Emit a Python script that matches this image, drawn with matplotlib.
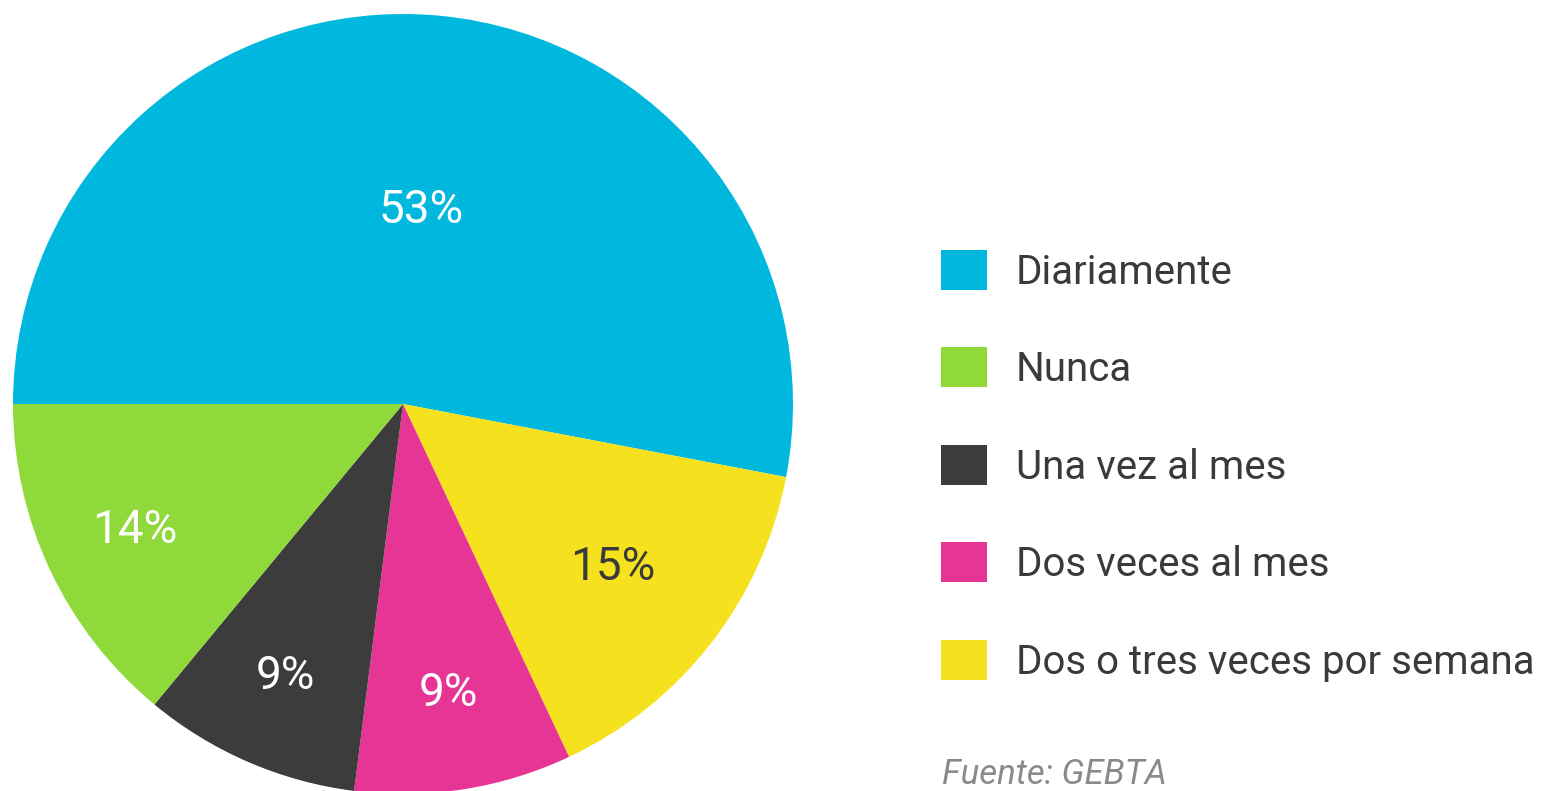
import matplotlib.pyplot as plt
from matplotlib.patches import Patch
import numpy as np

# Datos (orden del pastel, en sentido horario desde la izquierda)
categorias = ['Diariamente', 'Dos o tres veces por semana', 'Dos veces al mes',
              'Una vez al mes', 'Nunca']
valores = [53, 15, 9, 9, 14]
colores = ['#00B8DE', '#F5E11E', '#E63594', '#3C3C3C', '#8FD93A']
color_texto = ['white', '#3a3a3a', 'white', 'white', 'white']
radio_etiqueta = [0.5, 0.68, 0.75, 0.76, 0.76]

# Orden de la leyenda
orden_leyenda = ['Diariamente', 'Nunca', 'Una vez al mes', 'Dos veces al mes',
                 'Dos o tres veces por semana']

plt.rcParams['font.family'] = ['Roboto', 'DejaVu Sans']

fig = plt.figure(figsize=(15.58, 7.91), dpi=100)
ax = fig.add_axes([13 / 1558, -3 / 791, 780 / 1558, 780 / 791])

wedges, _ = ax.pie(valores, colors=colores, startangle=180, counterclock=False,
                   radius=1, wedgeprops=dict(linewidth=0))
ax.set_xlim(-1, 1)
ax.set_ylim(-1, 1)
ax.set_aspect('equal')
ax.axis('off')

# Porcentajes dentro de cada porción
for w, v, c, r in zip(wedges, valores, color_texto, radio_etiqueta):
    ang = np.deg2rad((w.theta1 + w.theta2) / 2)
    ax.text(r * np.cos(ang), r * np.sin(ang), f'{v}%', color=c,
            fontsize=33, ha='center', va='center')

# Leyenda
handles = [Patch(facecolor=colores[categorias.index(n)], label=n) for n in orden_leyenda]
fig.legend(handles=handles, loc='upper left', bbox_to_anchor=(941 / 1558, 1 - 250 / 791),
           frameon=False, fontsize=29, handlelength=1.14, handleheight=1.14,
           labelspacing=1.39, handletextpad=0.72, borderpad=0, borderaxespad=0,
           labelcolor='#3a3a3a')

fig.text(942 / 1558, 1 - 784 / 791, 'Fuente: GEBTA', fontsize=25, style='italic',
         color='#8a8a8a', va='baseline')

fig.savefig('out.png', dpi=100)
